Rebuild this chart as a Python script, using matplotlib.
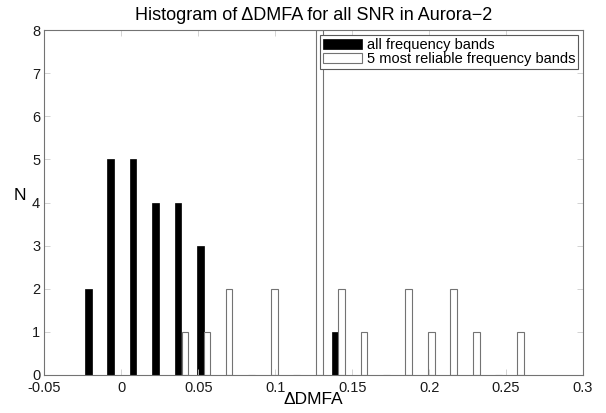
import numpy as np
import matplotlib.pyplot as plt

plt.rcParams['font.family'] = ['Liberation Sans', 'DejaVu Sans']

# histogram bin centres and counts
all_centers = [-0.0214, -0.0069, 0.0077, 0.0223, 0.0368, 0.0514, 0.0660,
               0.0805, 0.0951, 0.1097, 0.1243, 0.1389]
all_counts = [2, 5, 5, 4, 4, 3, 0, 0, 0, 0, 0, 1]

best_centers = [0.0415, 0.0557, 0.0701, 0.0846, 0.0994, 0.1140, 0.1286,
                0.1430, 0.1578, 0.1722, 0.1867, 0.2017, 0.2160, 0.2307,
                0.2450, 0.2595]
best_counts = [1, 1, 2, 0, 2, 0, 8, 2, 1, 0, 2, 1, 2, 1, 0, 1]

xticks = [-0.05, 0, 0.05, 0.1, 0.15, 0.2, 0.25, 0.3]
xtick_labels = ['-0.05', '0', '0.05', '0.1', '0.15', '0.2', '0.25', '0.3']

fig = plt.figure(figsize=(6.06, 4.13), dpi=100)
ax = fig.add_axes([44.3 / 606, 1 - 375 / 413, (583 - 44.3) / 606, 345 / 413])

w = 0.0043
ax.bar(all_centers, all_counts, width=w, color='black', edgecolor='black',
       linewidth=0.5, label='all frequency bands')
ax.bar(best_centers, best_counts, width=w, color='white', edgecolor='0.45',
       linewidth=0.8, label='5 most reliable frequency bands')

ax.set_xlim(-0.05, 0.3)
ax.set_ylim(0, 8)
ax.set_xticks(xticks)
ax.set_xticklabels(xtick_labels)
ax.set_yticks(range(9))
ax.tick_params(direction='in', length=4, width=0.6, color='0.8',
               labelsize=10.5, labelcolor='0.1', top=True, right=True)
ax.tick_params(axis='x', pad=4)
ax.tick_params(axis='y', pad=3)
for s in ax.spines.values():
    s.set_color('0.45')
    s.set_linewidth(0.8)

ax.set_title('Histogram of \u0394DMFA for all SNR in Aurora\u22122',
             fontsize=13, pad=7)
ax.set_xlabel('\u0394DMFA', fontsize=12.5, labelpad=-1.5)
ax.set_ylabel('N', fontsize=12.5, rotation=0, va='center', ha='center')
ax.yaxis.set_label_coords(-0.046, 0.52)

leg = ax.legend(loc='upper right', bbox_to_anchor=(0.991, 0.986),
                fontsize=10.5, handlelength=2.7, handleheight=0.7,
                handletextpad=0.3, borderpad=0.2, labelspacing=0.05,
                borderaxespad=0, fancybox=False, framealpha=1)
leg.get_frame().set_edgecolor('0.35')
leg.get_frame().set_linewidth(0.8)

fig.savefig('out.png', dpi=100)
